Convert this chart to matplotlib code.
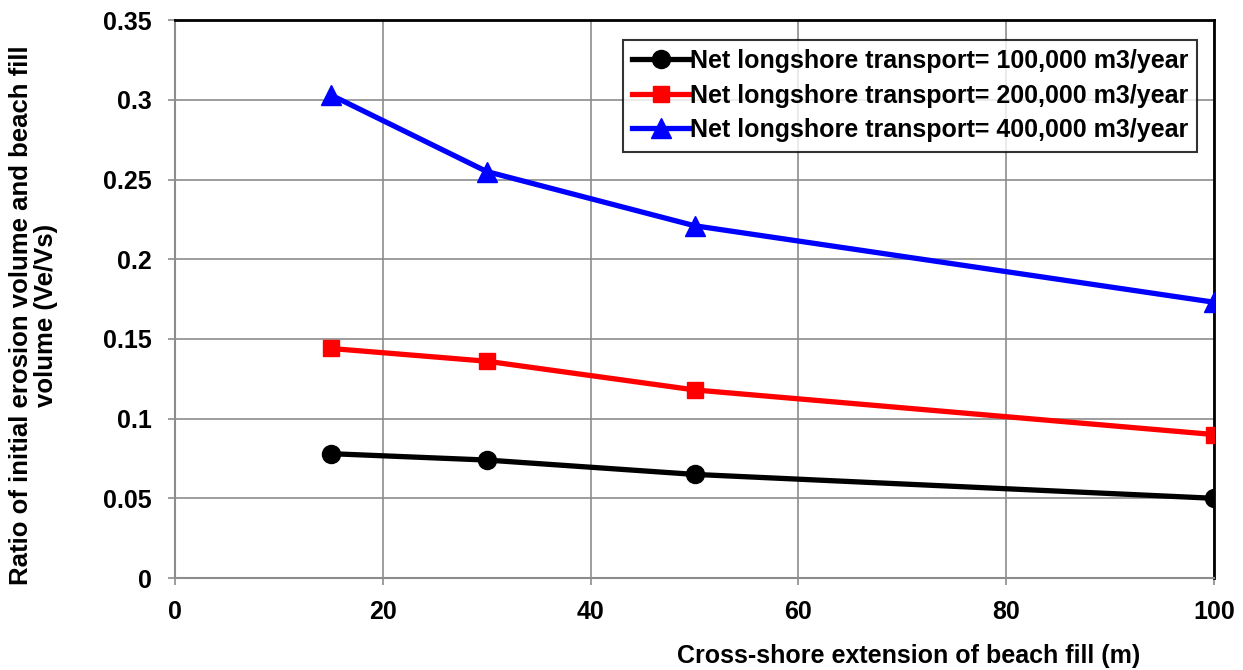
import matplotlib
matplotlib.use("Agg")
import matplotlib.pyplot as plt

plt.rcParams['font.family'] = ['Liberation Sans', 'DejaVu Sans']
plt.rcParams['font.weight'] = 'bold'

extension = [15, 30, 50, 100]
ratio_100k = [0.078, 0.074, 0.065, 0.050]
ratio_200k = [0.144, 0.136, 0.118, 0.090]
ratio_400k = [0.303, 0.255, 0.221, 0.173]
labels = ["Net longshore transport= 100,000 m3/year",
          "Net longshore transport= 200,000 m3/year",
          "Net longshore transport= 400,000 m3/year"]

fig = plt.figure(figsize=(12.43, 6.7), dpi=100)
ax = fig.add_axes([0.1408, 0.1373, 0.8359, 0.8327])

ax.plot(extension, ratio_100k, color='black', lw=3.8, marker='o', ms=13, label=labels[0], zorder=3)
ax.plot(extension, ratio_200k, color='#ff0000', lw=3.8, marker='s', ms=12, label=labels[1], zorder=3)
ax.plot(extension, ratio_400k, color='#0000ff', lw=3.8, marker='^', ms=14, label=labels[2], zorder=3)

ax.set_xlim(0, 100)
ax.set_ylim(0, 0.35)
ax.set_xticks(range(0, 101, 20))
ax.set_yticks([0, 0.05, 0.1, 0.15, 0.2, 0.25, 0.3, 0.35])
ax.set_yticklabels(['0', '0.05', '0.1', '0.15', '0.2', '0.25', '0.3', '0.35'])
ax.grid(True, color='#8c8c8c', lw=1.2)
ax.set_axisbelow(True)
ax.tick_params(labelsize=18, length=5, color='#8c8c8c', width=1.2)
ax.tick_params(axis='y', pad=12)
ax.tick_params(axis='x', pad=11)
for s in ['left', 'bottom']:
    ax.spines[s].set_color('#8c8c8c')
    ax.spines[s].set_linewidth(1.5)
for s in ['top', 'right']:
    ax.spines[s].set_color('black')
    ax.spines[s].set_linewidth(2)
for t in ax.get_xticklabels() + ax.get_yticklabels():
    t.set_fontweight('bold')

ax.set_xlabel("Cross-shore extension of beach fill (m)", fontsize=18, fontweight='bold')
ax.xaxis.set_label_coords(0.706, -0.118)
ax.set_ylabel("Ratio of initial erosion volume and beach fill\nvolume (Ve/Vs)",
              fontsize=18.5, fontweight='bold', linespacing=1.05)
ax.yaxis.set_label_coords(-0.1126, 0.471)

leg = ax.legend(loc='upper right', bbox_to_anchor=(0.984, 0.965), fontsize=18,
                frameon=True, fancybox=False, edgecolor='black', handlelength=2.3,
                handletextpad=0.0, borderpad=0.38, labelspacing=0.42, borderaxespad=0)
leg.get_frame().set_linewidth(1.5)
for t in leg.get_texts():
    t.set_fontweight('bold')

plt.savefig("out.png", dpi=100)
